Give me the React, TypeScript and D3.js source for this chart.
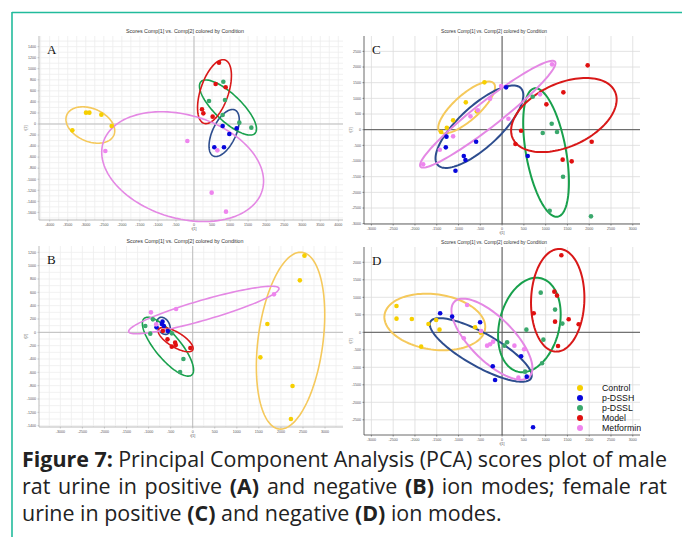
import React, { useEffect, useRef } from 'react';
import * as d3 from 'd3';

const groups = ['Control', 'p-DSSH', 'p-DSSL', 'Model', 'Metformin'];
const dotColors = ['#f6cf00', '#0707dc', '#3aa86c', '#e01010', '#ee85ee'];
const ringColors = ['#f5c95c', '#2d4d8e', '#18a04c', '#d81818', '#e488e4'];

// panel A: male, positive ion mode
const aControl = [[-2993, 205], [-2900, 205], [-2568, 169], [-2282, -36], [-3372, -115]];
const aDSSH = [[794, -36], [1182, -78], [979, -181], [563, -422], [831, -422]];
const aDSSL = [[813, 766], [859, 434], [416, 416], [794, 163], [1256, 24], [1589, -66]];
const aModel = [[693, 1110], [600, 724], [878, 664], [222, 266], [259, 193], [517, 133]];
const aMetformin = [[-185, -308], [-2457, -489], [647, -477], [490, -1243], [887, -1587]];
// ellipses: major axis ends, then minor axis ends (data units)
const aEllipses = [
  [-3547, 60, -2199, -97, -2928, 302, -2818, -338],
  [1136, 253, 536, -579, 1124, -260, 539, -78],
  [194, 766, 1690, -169, 687, 140, 1197, 488],
  [859, 1159, 277, 12, 937, 506, 200, 665],
  [-2550, -591, 1921, -953, -499, 205, -129, -1750],
];

// panel B: male, negative ion mode
const bControl = [[2534, 1150], [2429, 780], [1692, 125], [1534, -375], [2263, -805], [2226, -1300]];
const bDSSH = [[-684, 160], [-654, 95], [-820, 75], [-564, 20], [-699, 125]];
const bDSSL = [[-1075, 95], [-962, -20], [-902, 195], [-474, -15], [-211, -400], [-286, -595]];
const bModel = [[-677, 20], [-571, -105], [-398, -155], [-383, -190], [-474, -215], [-53, -235]];
const bMetformin = [[-947, 300], [-376, 350], [1842, 570], [-827, 120]];
const bEllipses = [
  [2481, 1200, 1955, -1450, 2947, -190, 1489, -60],
  [-812, 160, -511, 35, -632, 210, -692, -15],
  [-1098, 210, -23, -640, -782, -335, -346, -95],
  [-774, 45, 0, -265, -477, -205, -305, -15],
  [-1451, 10, 1955, 660, 308, 190, 188, 480],
];

// panel C: female, positive ion mode
const cControl = [[-405, 1511], [-833, 872], [-581, 585], [-1124, 298], [-1269, 64], [-1399, -74]];
const cDSSH = [[92, 1351], [-596, -383], [-1277, -223], [-1292, -564], [-879, -840], [-841, -968], [-1070, -1309], [589, -840]];
const cDSSL = [[703, 1053], [1139, 191], [933, -106], [1261, -74], [1399, -1500], [1093, -2585], [2041, -2766]];
const cModel = [[1965, 2053], [1407, 1191], [1017, 809], [436, -32], [306, -457], [1391, -957], [1598, -1011], [2057, -383]];
const cMetformin = [[1147, 2085], [872, 1128], [-23, 1394], [-275, 989], [-558, 617], [-726, 426], [145, 351], [-1124, -213], [-1430, -638], [-1812, -1106]];
const cEllipses = [
  [-1437, -64, -191, 1479, -621, 405, -1008, 1010],
  [-1476, -1128, 436, 1319, -200, -389, -840, 581],
  [742, 1319, 1277, -2777, 557, -837, 1461, -610],
  [245, -277, 2592, 1213, 1719, -452, 1117, 1388],
  [-1873, -1181, 1216, 2170, -150, 176, -508, 814],
];

// panel D: female, negative ion mode
const dControl = [[-2424, 752], [-2424, 390], [-2072, 381], [-1690, 238], [-1514, 352], [-1437, 76], [-1858, -410], [-619, 143], [-489, -10]];
const dDSSH = [[-1422, 543], [-1147, 448], [-505, 286], [-214, -971], [-161, -1362], [436, -686], [566, -1267], [711, -2714]];
const dDSSL = [[887, 1133], [1216, 648], [558, 76], [115, -286], [54, -381], [948, -210], [917, -886], [528, -1124], [1384, 248]];
const dModel = [[1361, 2200], [1200, 1162], [1261, 1048], [726, 543], [1216, 305], [1529, 371], [1758, 229], [1284, -390]];
const dMetformin = [[-803, 781], [-879, -171], [-344, -381], [-275, -343], [-206, -267], [283, -381], [505, -486], [375, -1295], [-482, 38]];
const dEllipses = [
  [-2699, 495, -390, 95, -1632, -488, -1456, 1078],
  [-1644, 305, 665, -1314, -677, -919, -302, -90],
  [894, 1543, 359, -1124, 1294, 2, -40, 417],
  [1315, 2381, 1239, -552, 665, 933, 1888, 895],
  [-1093, 876, 627, -1267, -585, -633, 119, 243],
];

const xTicksA = d3.range(-4000, 4001, 500);
const yTicksA = d3.range(-1600, 1401, 200);
const xTicksB = d3.range(-3000, 3001, 500);
const yTicksB = d3.range(-1400, 1201, 200);
const xTicksCD = d3.range(-3000, 3001, 500);
const yTicksC = d3.range(-3000, 2501, 500);
const yTicksD = d3.range(-2500, 2001, 500);

const title = 'Scores Comp[1] vs. Comp[2] colored by Condition';

const captionLines = [
  '**Figure** **7:** Principal Component Analysis (PCA) scores plot of male',
  'rat urine in positive **(A)** and negative **(B)** ion modes; female rat',
  'urine in positive **(C)** and negative **(D)** ion modes.',
];

const panels = [
  { label: 'A', box: [39, 343, 36, 220], xd: [-4296, 4130], yd: [-1738, 1593], xt: xTicksA, yt: yTicksA, gx: 250, gy: 100, dark: false, tw: 118,
    pts: [aControl, aDSSH, aDSSL, aModel, aMetformin], ells: aEllipses },
  { label: 'B', box: [39, 343, 246, 427], xd: [-3484, 3407], yd: [-1420, 1295], xt: xTicksB, yt: yTicksB, gx: 250, gy: 100, dark: false, tw: 117,
    pts: [bControl, bDSSH, bDSSL, bModel, bMetformin], ells: bEllipses },
  { label: 'C', box: [364, 640, 36, 224], xd: [-3170, 3166], yd: [-3010, 2990], xt: xTicksCD, yt: yTicksC, gx: 500, gy: 500, dark: true, tw: 106,
    pts: [cControl, cDSSH, cDSSL, cModel, cMetformin], ells: cEllipses },
  { label: 'D', box: [364, 640, 247, 435], xd: [-3170, 3166], yd: [-2934, 2437], xt: xTicksCD, yt: yTicksD, gx: 500, gy: 500, dark: true, tw: 106,
    pts: [dControl, dDSSH, dDSSL, dModel, dMetformin], ells: dEllipses },
];

function ellipsePath(e, x, y) {
  const [x1, y1, x2, y2, x3, y3, x4, y4] = e;
  const cx = (x1 + x2) / 2, cy = (y1 + y2) / 2;
  const ux = (x2 - x1) / 2, uy = (y2 - y1) / 2;
  const vx = (x3 - x4) / 2, vy = (y3 - y4) / 2;
  const pts = d3.range(0, 2 * Math.PI, Math.PI / 60).map(t => [
    x(cx + ux * Math.cos(t) + vx * Math.sin(t)),
    y(cy + uy * Math.cos(t) + vy * Math.sin(t)),
  ]);
  return d3.line().curve(d3.curveLinearClosed)(pts);
}

function Panel({ p }) {
  const [l, r, t, b] = p.box;
  const x = d3.scaleLinear().domain(p.xd).range([l, r]);
  const y = d3.scaleLinear().domain(p.yd).range([b, t]);
  const gxs = d3.range(Math.ceil(p.xd[0] / p.gx) * p.gx, p.xd[1], p.gx);
  const gys = d3.range(Math.ceil(p.yd[0] / p.gy) * p.gy, p.yd[1], p.gy);
  const grid = p.dark ? '#dcdcdc' : '#ededed';
  const axis = p.dark ? '#444' : '#aaa';
  const zero = p.dark ? '#555' : '#bdbdbd';
  const tick = { fontFamily: 'Liberation Sans, Arial, sans-serif', fontSize: 3.6, fill: '#555' };
  return (
    <g>
      {gxs.map(v => <line key={'gx' + v} x1={x(v)} x2={x(v)} y1={t} y2={b} stroke={grid} strokeWidth={0.8} />)}
      {gys.map(v => <line key={'gy' + v} x1={l} x2={r} y1={y(v)} y2={y(v)} stroke={grid} strokeWidth={0.8} />)}
      <line x1={x(0)} x2={x(0)} y1={t} y2={b} stroke={zero} strokeWidth={1} />
      <line x1={l} x2={r} y1={y(0)} y2={y(0)} stroke={zero} strokeWidth={1} />
      <line x1={l} x2={l} y1={t} y2={b} stroke={axis} strokeWidth={0.8} />
      <line x1={l} x2={r} y1={b} y2={b} stroke={axis} strokeWidth={0.8} />
      {p.xt.map(v => (
        <g key={'xt' + v}>
          <line x1={x(v)} x2={x(v)} y1={b} y2={b + 1.5} stroke={axis} strokeWidth={0.6} />
          <text x={x(v)} y={b + 6} textAnchor="middle" {...tick}>{v}</text>
        </g>
      ))}
      {p.yt.map(v => (
        <g key={'yt' + v}>
          <line x1={l - 1.5} x2={l} y1={y(v)} y2={y(v)} stroke={axis} strokeWidth={0.6} />
          <text x={l - 3} y={y(v) + 1.3} textAnchor="end" {...tick}>{v}</text>
        </g>
      ))}
      <text x={x(0)} y={b + 9.5} textAnchor="middle" {...tick}>t[1]</text>
      <text transform={`translate(${l - 12},${(t + b) / 2}) rotate(-90)`} textAnchor="middle" {...tick}>t[2]</text>
      <text x={(l + r) / 2 - (p.dark ? 8 : 6)} y={t - 3} textAnchor="middle" textLength={p.tw} lengthAdjust="spacingAndGlyphs"
        fontFamily="Liberation Sans, Arial, sans-serif" fontSize={5.6} fill="#333">{title}</text>
      <text x={l + 8} y={t + 18} fontFamily="Liberation Serif, Times New Roman, serif" fontSize={13} fill="#111">{p.label}</text>
      {p.ells.map((e, i) => (
        <path key={'e' + i} d={ellipsePath(e, x, y)} fill="none" stroke={ringColors[i]} strokeWidth={p.dark ? 2 : 1.6} />
      ))}
      {p.pts.map((arr, i) => arr.map((d, j) => (
        <circle key={`p${i}-${j}`} cx={x(d[0])} cy={y(d[1])} r={2.3} fill={dotColors[i]} />
      )))}
    </g>
  );
}

export default function App() {
  const capRef = useRef(null);

  useEffect(() => {
    const g = d3.select(capRef.current);
    g.selectAll('*').remove();
    const left = 22, right = 667, base = 467, lh = 27;
    const lastWidth = 480; // width of the unjustified last line
    const family = 'Open Sans, Lato, sans-serif';

    const layout = (size) => captionLines.map((line, li) => {
      const words = line.split(' ').map(w => ({ text: w.replace(/\*\*/g, ''), bold: w.startsWith('**') }));
      const nodes = words.map(w => g.append('text')
        .attr('y', base + li * lh)
        .attr('font-family', family)
        .attr('font-size', size)
        .attr('font-weight', w.bold ? 700 : 400)
        .attr('fill', '#222')
        .text(w.text));
      const widths = nodes.map(n => (n.node() as SVGTextElement).getComputedTextLength());
      return { nodes, widths };
    });

    // fit font size so that the last line has the reference width
    let size = 19;
    let lines = layout(size);
    const last = lines[lines.length - 1];
    const natural = d3.sum(last.widths) + size * 0.26 * (last.widths.length - 1);
    g.selectAll('*').remove();
    size = size * lastWidth / natural;
    lines = layout(size);

    lines.forEach(({ nodes, widths }, li) => {
      const total = d3.sum(widths);
      const justify = li < lines.length - 1;
      const gap = justify ? (right - left - total) / (nodes.length - 1) : size * 0.26;
      let cx = left;
      nodes.forEach((n, i) => {
        n.attr('x', cx);
        cx += widths[i] + gap;
      });
    });
  }, []);

  return (
    <svg width={682} height={537} style={{ position: 'absolute', left: 0, top: 0, background: '#fff' }}>
      <line x1={12} x2={682} y1={12.5} y2={12.5} stroke="#22bb9c" strokeWidth={1.6} />
      <line x1={12} x2={12} y1={12} y2={537} stroke="#22bb9c" strokeWidth={1.6} />
      {panels.map(p => <Panel key={p.label} p={p} />)}
      <g>
        {groups.map((gName, i) => (
          <g key={gName}>
            <circle cx={580} cy={388 + i * 10} r={3} fill={dotColors[i]} />
            <text x={602} y={391 + i * 10} fontFamily="Liberation Sans, Arial, sans-serif" fontSize={8.8} fill="#111">{gName}</text>
          </g>
        ))}
      </g>
      <g ref={capRef} />
    </svg>
  );
}
